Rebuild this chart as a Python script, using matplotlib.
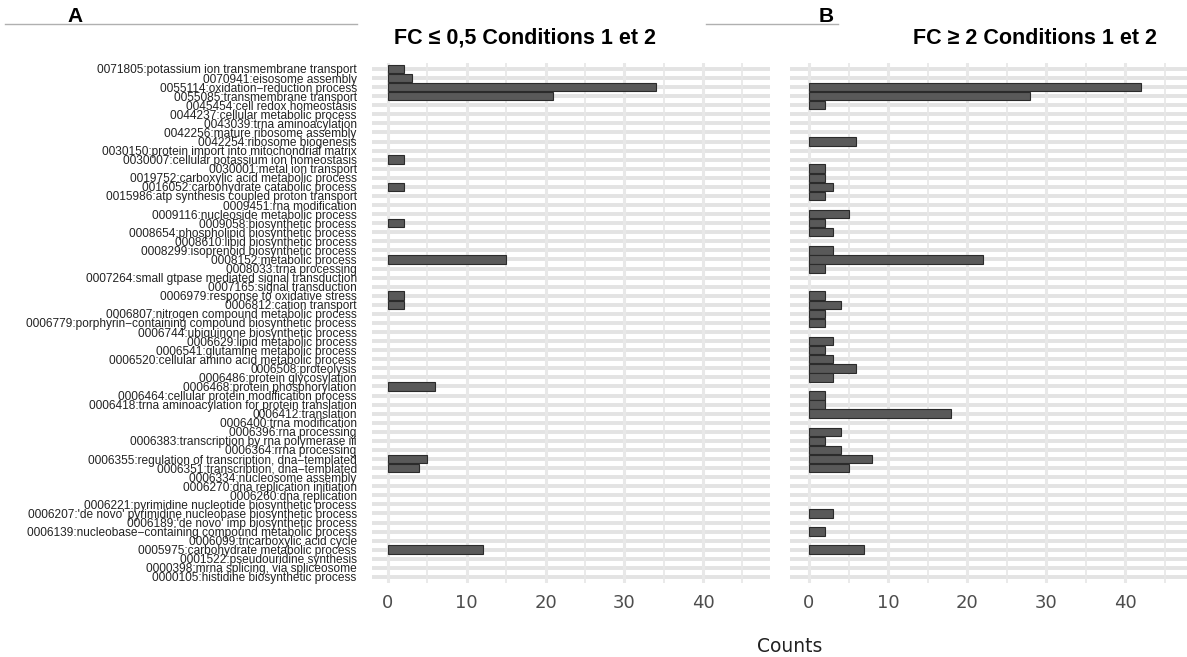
import matplotlib
matplotlib.use('Agg')
import matplotlib.pyplot as plt
from matplotlib.lines import Line2D
import numpy as np

terms = [
    "0071805:potassium ion transmembrane transport",
    "0070941:eisosome assembly",
    "0055114:oxidation\u2212reduction process",
    "0055085:transmembrane transport",
    "0045454:cell redox homeostasis",
    "0044237:cellular metabolic process",
    "0043039:trna aminoacylation",
    "0042256:mature ribosome assembly",
    "0042254:ribosome biogenesis",
    "0030150:protein import into mitochondrial matrix",
    "0030007:cellular potassium ion homeostasis",
    "0030001:metal ion transport",
    "0019752:carboxylic acid metabolic process",
    "0016052:carbohydrate catabolic process",
    "0015986:atp synthesis coupled proton transport",
    "0009451:rna modification",
    "0009116:nucleoside metabolic process",
    "0009058:biosynthetic process",
    "0008654:phospholipid biosynthetic process",
    "0008610:lipid biosynthetic process",
    "0008299:isoprenoid biosynthetic process",
    "0008152:metabolic process",
    "0008033:trna processing",
    "0007264:small gtpase mediated signal transduction",
    "0007165:signal transduction",
    "0006979:response to oxidative stress",
    "0006812:cation transport",
    "0006807:nitrogen compound metabolic process",
    "0006779:porphyrin\u2212containing compound biosynthetic process",
    "0006744:ubiquinone biosynthetic process",
    "0006629:lipid metabolic process",
    "0006541:glutamine metabolic process",
    "0006520:cellular amino acid metabolic process",
    "0006508:proteolysis",
    "0006486:protein glycosylation",
    "0006468:protein phosphorylation",
    "0006464:cellular protein modification process",
    "0006418:trna aminoacylation for protein translation",
    "0006412:translation",
    "0006400:trna modification",
    "0006396:rna processing",
    "0006383:transcription by rna polymerase iii",
    "0006364:rrna processing",
    "0006355:regulation of transcription, dna\u2212templated",
    "0006351:transcription, dna\u2212templated",
    "0006334:nucleosome assembly",
    "0006270:dna replication initiation",
    "0006260:dna replication",
    "0006221:pyrimidine nucleotide biosynthetic process",
    "0006207:'de novo' pyrimidine nucleobase biosynthetic process",
    "0006189:'de novo' imp biosynthetic process",
    "0006139:nucleobase\u2212containing compound metabolic process",
    "0006099:tricarboxylic acid cycle",
    "0005975:carbohydrate metabolic process",
    "0001522:pseudouridine synthesis",
    "0000398:mrna splicing, via spliceosome",
    "0000105:histidine biosynthetic process",
]

# counts per term, FC <= 0.5 (panel A)
counts_down = [2, 3, 34, 21, 0, 0, 0, 0, 0, 0,
               2, 0, 0, 2, 0, 0, 0, 2, 0, 0,
               0, 15, 0, 0, 0, 2, 2, 0, 0, 0,
               0, 0, 0, 0, 0, 6, 0, 0, 0, 0,
               0, 0, 0, 5, 4, 0, 0, 0, 0, 0,
               0, 0, 0, 12, 0, 0, 0]

# counts per term, FC >= 2 (panel B)
counts_up = [0, 0, 42, 28, 2, 0, 0, 0, 6, 0,
             0, 2, 2, 3, 2, 0, 5, 2, 3, 0,
             3, 22, 2, 0, 0, 2, 4, 2, 2, 0,
             3, 2, 3, 6, 3, 0, 2, 2, 18, 0,
             4, 2, 4, 8, 5, 0, 0, 0, 0, 3,
             0, 2, 0, 7, 0, 0, 0]

titles = ["FC \u2264 0,5 Conditions 1 et 2", "FC \u2265 2 Conditions 1 et 2"]

W, H = 1187, 657
fig = plt.figure(figsize=(W / 100, H / 100), dpi=100)

y = np.arange(len(terms))
top_px, bot_px = 62.6, 583.3

def px_axes(l, r):
    return fig.add_axes([l / W, 1 - bot_px / H, (r - l) / W, (bot_px - top_px) / H])

axA = px_axes(372, 770)
axB = px_axes(790, 1187)

for ax, vals, xl in [(axA, counts_down, (-2.03, 48.5)), (axB, counts_up, (-2.4, 47.8))]:
    for yy in y:
        ax.axhline(yy, color='#e3e3e3', lw=2.8, zorder=0)
    for xv in range(0, 50, 5):
        ax.axvline(xv, color='#e8e8e8', lw=2.2 if xv % 10 == 0 else 1.3, zorder=0.5)
    v = np.array(vals)
    keep = v > 0
    ax.barh(y[keep], v[keep], height=0.94, color='#595959', edgecolor='#2b2b2b', lw=0.8, zorder=2)
    ax.set_xlim(*xl)
    ax.set_ylim(len(terms) - 0.3, -0.7)
    ax.set_xticks([0, 10, 20, 30, 40])
    ax.tick_params(axis='x', length=0, labelsize=13, labelcolor='#4d4d4d', pad=8)
    for s in ax.spines.values():
        s.set_visible(False)

axA.set_yticks(y)
axA.set_yticklabels(terms, fontsize=8.6, family='Liberation Sans', color='#222222')
axA.tick_params(axis='y', length=0, pad=11)
axB.set_yticks([])

fig.text(790 / W, 1 - 647 / H, "Counts", ha='center', va='center', fontsize=13.5, color='#222222')

tfont = ['Liberation Sans']
fig.text(525 / W, 1 - 38 / H, titles[0], ha='center', va='center', fontsize=15.5,
         fontweight='bold', family=tfont)
fig.text(1035 / W, 1 - 38 / H, titles[1], ha='center', va='center', fontsize=15.5,
         fontweight='bold', family=tfont)

fig.add_artist(Line2D([5 / W, 357 / W], [1 - 24 / H, 1 - 24 / H], color='#b0b0b0', lw=1))
fig.add_artist(Line2D([706 / W, 838 / W], [1 - 24 / H, 1 - 24 / H], color='#b0b0b0', lw=1))
fig.text(75 / W, 1 - 17 / H, "A", ha='center', va='center', fontsize=15, fontweight='bold',
         family=tfont)
fig.text(826 / W, 1 - 16 / H, "B", ha='center', va='center', fontsize=15, fontweight='bold',
         family=tfont)

fig.savefig('out.png', dpi=100)
